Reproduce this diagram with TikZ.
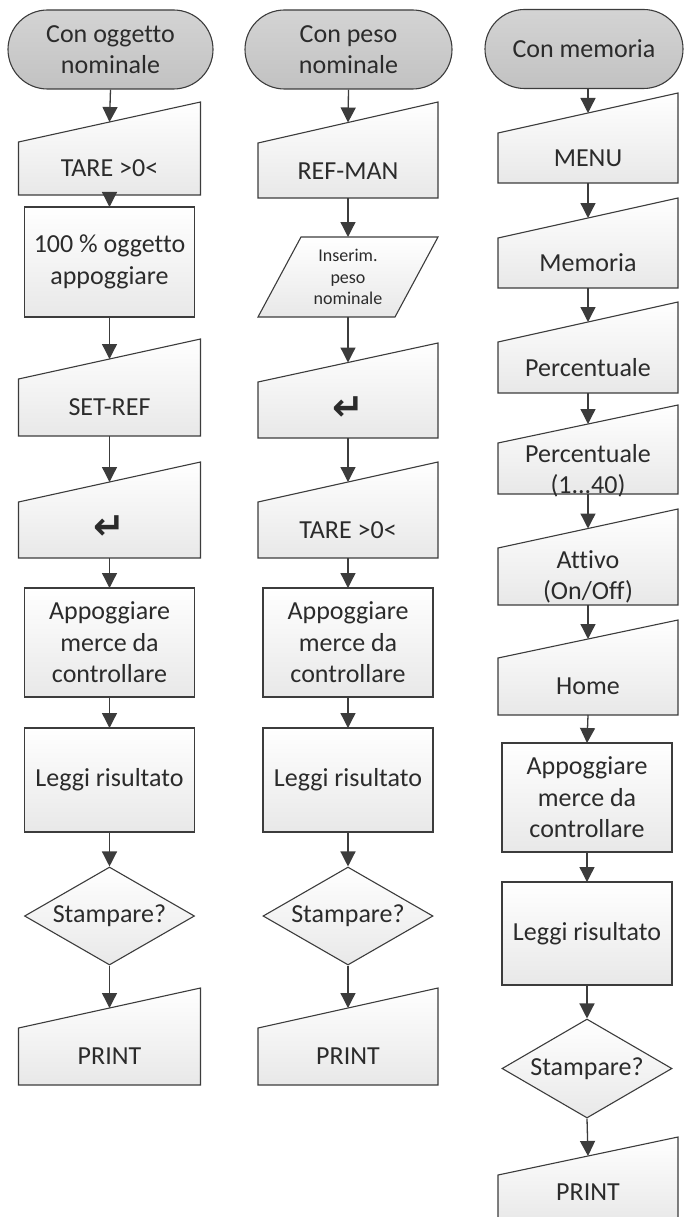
\documentclass[tikz,border=0pt]{standalone}
\usepackage{fontspec}
\setmainfont{Carlito}[Ligatures=NoCommon]
\newfontfamily\symfont{DejaVu Sans}
\usetikzlibrary{arrows.meta,shapes.geometric,shapes.misc}

\definecolor{edge}{HTML}{3C3C3C}
\definecolor{ink}{HTML}{2B2B2B}

\tikzset{
  shapestyle/.style={draw=edge, line width=1.1pt, top color=white, bottom color=black!9},
  txt/.style={text=ink, align=center, inner sep=0pt, font=\fontsize{26}{31.5}\selectfont},
  smalltxt/.style={text=ink, align=center, inner sep=0pt, font=\fontsize{18}{21.5}\selectfont},
  startstyle/.style={shapestyle, txt, rounded rectangle, top color=black!17, bottom color=black!24,
    minimum height=79pt},
  decision/.style={shapestyle, txt, diamond, aspect=1.7, minimum width=170pt, minimum height=98pt},
  flow/.style={draw=edge, line width=1.3pt, -{Triangle[length=15pt,width=15pt]}},
}

% manual input step: name, centre x, width, top-right y, top-left y, bottom y, text y, text
\newcommand\manualstep[8]{%
  \path[shapestyle] ({#2-#3/2},#6) -- ({#2-#3/2},#5) -- ({#2+#3/2},#4) -- ({#2+#3/2},#6) -- cycle;
  \node[txt] (#1) at (#2,#7) {#8};
  \coordinate (#1-in) at (#2,{(#4+#5)/2});
  \coordinate (#1-out) at (#2,#6);
}
% process box: name, centre x, top y, bottom y, text
\newcommand\procstep[5]{%
  \path[shapestyle] ({#2-85},#4) -- ({#2-85},#3) -- ({#2+85},#3) -- ({#2+85},#4) -- cycle;
  \node[txt] (#1) at (#2,{(#3+#4)/2}) {#5};
  \coordinate (#1-in) at (#2,#3);
  \coordinate (#1-out) at (#2,#4);
}
\newcommand\enterkey{{\symfont\bfseries\fontsize{38}{38}\selectfont ↵}}

\begin{document}
\begin{tikzpicture}[x=1pt,y=-1pt]
\fill[white] (0,0) rectangle (683,1217);
\useasboundingbox (0,0) rectangle (683,1217);

% ---- column 1: Con oggetto nominale
\node[startstyle, minimum width=205pt] (t1) at (110.5,49.5) {Con oggetto\\nominale};
\manualstep{m1}{109.5}{182}{102}{142}{195}{168}{TARE >0<}
\procstep{b1}{109.5}{207}{317}{100 \% oggetto\\appoggiare}
\manualstep{m2}{109.5}{182}{339}{379}{436}{407}{SET-REF}
\manualstep{m3}{109.5}{182}{462}{502}{558}{528}{\enterkey}
\procstep{b2}{109.5}{588}{697}{Appoggiare\\merce da\\controllare}
\procstep{b3}{109.5}{728}{832}{Leggi risultato}
\node[decision] (d1) at (109.5,916) {Stampare?};
\manualstep{m4}{109.5}{182}{988}{1028}{1085}{1056}{PRINT}

\draw[flow] (t1.south) -- (m1-in);
\draw[flow] (m1-out) -- (b1-in);
\draw[flow] (b1-out) -- (m2-in);
\draw[flow] (m2-out) -- (m3-in);
\draw[flow] (m3-out) -- (b2-in);
\draw[flow] (b2-out) -- (b3-in);
\draw[flow] (b3-out) -- (d1.north);
\draw[flow] (d1.south) -- (m4-in);

% ---- column 2: Con peso nominale
\node[startstyle, minimum width=207pt] (t2) at (348.5,49.5) {Con peso\\nominale};
\manualstep{m5}{348}{180}{102}{143}{198}{171}{REF-MAN}
\path[shapestyle] (258,317) -- (301,237) -- (438,237) -- (395,317) -- cycle;
\node[smalltxt] (p1) at (348,277) {Inserim.\\peso\\nominale};
\coordinate (p1-in) at (348,237);
\coordinate (p1-out) at (348,317);
\manualstep{m6}{348}{180}{343}{382}{438}{409}{\enterkey}
\manualstep{m7}{348}{180}{462}{502}{558}{530}{TARE >0<}
\procstep{b4}{348}{588}{697}{Appoggiare\\merce da\\controllare}
\procstep{b5}{348}{728}{832}{Leggi risultato}
\node[decision] (d2) at (348,916) {Stampare?};
\manualstep{m8}{348}{180}{988}{1028}{1085}{1056}{PRINT}

\draw[flow] (t2.south) -- (m5-in);
\draw[flow] (m5-out) -- (p1-in);
\draw[flow] (p1-out) -- (m6-in);
\draw[flow] (m6-out) -- (m7-in);
\draw[flow] (m7-out) -- (b4-in);
\draw[flow] (b4-out) -- (b5-in);
\draw[flow] (b5-out) -- (d2.north);
\draw[flow] (d2.south) -- (m8-in);

% ---- column 3: Con memoria
\node[startstyle, minimum width=198pt] (t3) at (584,49) {Con memoria};
\manualstep{m9}{588}{180}{93}{133}{183}{158}{MENU}
\manualstep{m10}{588}{180}{198}{238}{288}{263}{Memoria}
\manualstep{m11}{588}{180}{302}{342}{393}{367.5}{Percentuale}
\manualstep{m12}{588}{180}{405}{443}{494}{471}{Percentuale\\(1...40)}
\manualstep{m13}{588}{180}{509}{548}{605}{577}{Attivo\\(On/Off)}
\manualstep{m14}{588}{180}{620}{658}{715}{686}{Home}
\procstep{b6}{587}{743}{852}{Appoggiare\\merce da\\controllare}
\procstep{b7}{587}{882}{985}{Leggi risultato}
\node[decision, minimum height=99pt] (d3) at (587,1068.5) {Stampare?};
\manualstep{m15}{588}{180}{1137}{1175}{1224}{1192}{PRINT}

\draw[flow] (t3.south -| m9-in) -- (m9-in);
\draw[flow] (m9-out) -- (m10-in);
\draw[flow] (m10-out) -- (m11-in);
\draw[flow] (m11-out) -- (m12-in);
\draw[flow] (m12-out) -- (m13-in);
\draw[flow] (m13-out) -- (m14-in);
\draw[flow] (m14-out) -- (b6-in);
\draw[flow] (b6-out) -- (b7-in);
\draw[flow] (b7-out) -- (d3.north);
\draw[flow] (d3.south) -- (m15-in);
\end{tikzpicture}
\end{document}
